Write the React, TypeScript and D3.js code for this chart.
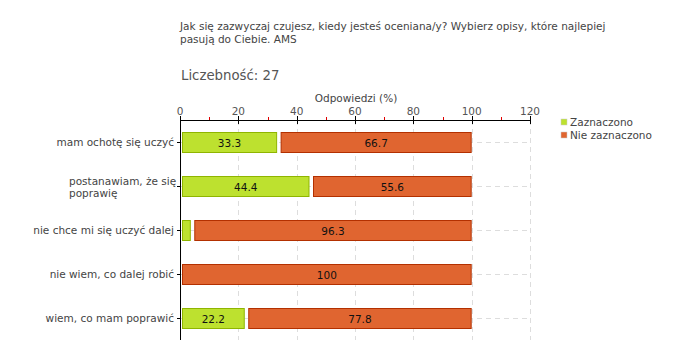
import React from "react";
import * as d3 from "d3";

const categories: string[][] = [
  ["mam ochotę się uczyć"],
  ["postanawiam, że się", "poprawię"],
  ["nie chce mi się uczyć dalej"],
  ["nie wiem, co dalej robić"],
  ["wiem, co mam poprawić"],
];
const zaznaczono = [33.3, 44.4, 3.7, 0, 22.2];
const nieZaznaczono = [66.7, 55.6, 96.3, 100, 77.8];
const seriesNames = ["Zaznaczono", "Nie zaznaczono"];
const majorTicks = [0, 20, 40, 60, 80, 100, 120];
const minorTicks = [10, 30, 50, 70, 90, 110];

const fills = ["#bde12f", "#e06530"];
const strokes = ["#8fb500", "#b33000"];

export default function App() {
  const W = 680, H = 360;
  const x0 = 180, x1 = 530, yTop = 120, yBot = 340;
  const x = d3.scaleLinear().domain([0, 120]).range([x0, x1]);
  const font = "DejaVu Sans, Verdana, sans-serif";
  const fs = 10.5;
  const bw = 20;
  const center = (i: number) => yTop + 22 + 44 * i;

  return (
    <svg width={W} height={H} style={{ position: "absolute", left: 0, top: 0, background: "#fff" }} fontFamily={font}>
      <text x={180} y={30} fontSize={fs} fill="#444">Jak się zazwyczaj czujesz, kiedy jesteś oceniana/y? Wybierz opisy, które najlepiej</text>
      <text x={180} y={43} fontSize={fs} fill="#444">pasują do Ciebie. AMS</text>
      <text x={181} y={80} fontSize={13.3} fill="#555">Liczebność: 27</text>
      <text x={x(60) + 1} y={102} fontSize={fs} fill="#444" textAnchor="middle">Odpowiedzi (%)</text>

      {/* grid */}
      {majorTicks.slice(1).map((t) => (
        <line key={"g" + t} x1={Math.round(x(t)) + 0.5} x2={Math.round(x(t)) + 0.5} y1={yTop} y2={yBot} stroke="#dddddd" strokeDasharray="5,4" />
      ))}
      {categories.map((_, i) => (
        <line key={"h" + i} x1={x0} x2={x1} y1={center(i) + 0.5} y2={center(i) + 0.5} stroke="#dddddd" strokeDasharray="5,4" />
      ))}

      {/* bars */}
      {categories.map((_, i) => {
        const vals = [zaznaczono[i], nieZaznaczono[i]];
        let acc = 0;
        return vals.map((v, s) => {
          const a = acc;
          acc += v;
          if (v <= 0) return null;
          const start = x(a) + (a === 0 ? 2 : 3.5);
          const end = x(a + v);
          const cy = center(i);
          return (
            <g key={i + "-" + s}>
              <rect x={start + 0.5} y={cy - bw / 2 + 0.5} width={end - start - 1} height={bw} fill={fills[s]} stroke={strokes[s]} strokeWidth={1} />
              {v >= 10 && (
                <text x={(start + end) / 2} y={cy + 4.5} fontSize={fs} textAnchor="middle" fill="#111">
                  {v === 100 ? "100" : v.toFixed(1)}
                </text>
              )}
            </g>
          );
        });
      })}

      {/* top axis */}
      <line x1={x0} x2={x1} y1={yTop + 0.5} y2={yTop + 0.5} stroke="#000" />
      {majorTicks.map((t) => (
        <g key={"t" + t}>
          <line x1={Math.round(x(t)) + 0.5} x2={Math.round(x(t)) + 0.5} y1={yTop - 4} y2={yTop + 4} stroke="#000" />
          <text x={x(t)} y={115} fontSize={fs} fill="#555" textAnchor="middle">{t}</text>
        </g>
      ))}
      {minorTicks.map((t) => (
        <line key={"m" + t} x1={Math.round(x(t)) + 0.5} x2={Math.round(x(t)) + 0.5} y1={yTop - 3} y2={yTop} stroke="#e00000" />
      ))}

      {/* left axis */}
      <line x1={x0 + 0.5} x2={x0 + 0.5} y1={yTop} y2={yBot} stroke="#000" />
      {categories.map((lines, i) => {
        const cy = center(i);
        return (
          <g key={"c" + i}>
            <line x1={x0 - 3} x2={x0} y1={cy + 0.5} y2={cy + 0.5} stroke="#000" />
            {lines.length === 1 ? (
              <text x={174} y={cy + 4} fontSize={fs} fill="#444" textAnchor="end">{lines[0]}</text>
            ) : (
              <g>
                {lines.map((l, k) => (
                  <text key={k} x={69} y={cy - 1 + k * 12} fontSize={fs} fill="#444">{l}</text>
                ))}
              </g>
            )}
          </g>
        );
      })}

      {/* legend */}
      {seriesNames.map((n, k) => (
        <g key={"l" + k}>
          <rect x={561} y={119 + k * 13} width={6} height={6} fill={fills[k]} stroke="#ccc" strokeWidth={0.5} />
          <text x={570} y={126 + k * 13} fontSize={fs} fill="#444">{n}</text>
        </g>
      ))}
    </svg>
  );
}
